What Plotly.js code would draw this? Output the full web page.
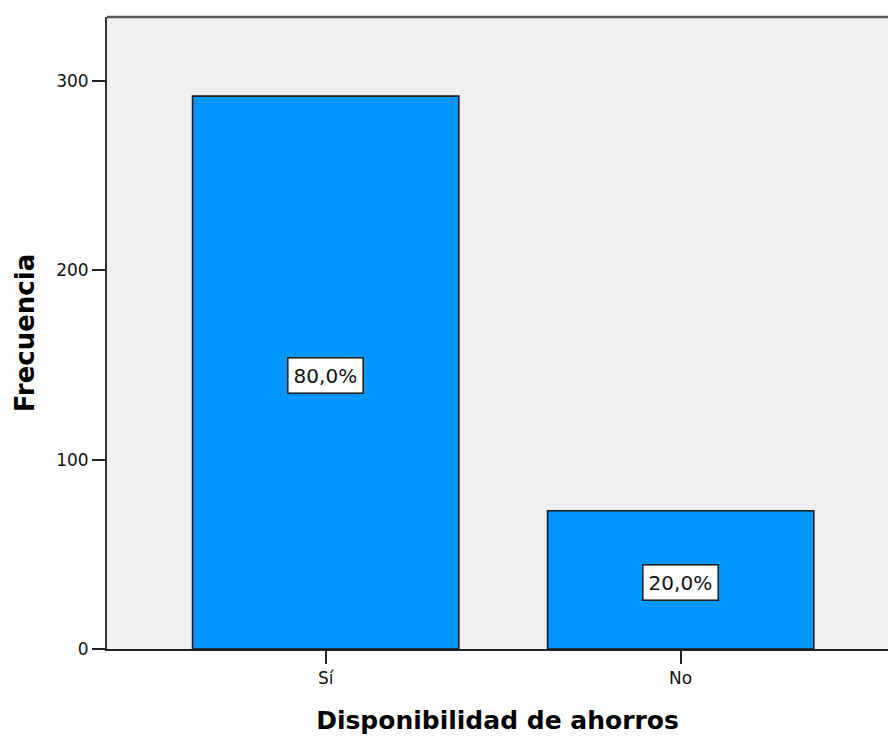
<!DOCTYPE html>
<html>
<head>
<meta charset="utf-8">
<script src="https://cdn.plot.ly/plotly-3.0.1.min.js"></script>
<style>html,body{margin:0;padding:0;background:#fff;}#chart{width:888px;height:738px;}</style>
</head>
<body>
<div id="chart"></div>
<script>
const categories = ["Sí", "No"];
const frequencies = [292, 73];
const percentLabels = ["80,0%", "20,0%"];
const yTicks = [0, 100, 200, 300];

const trace = {
  type: "bar",
  x: categories,
  y: frequencies,
  width: 0.75,
  marker: { color: "#0095ff", line: { color: "#1a1a1a", width: 1.6 } },
  hoverinfo: "skip"
};

const annotations = categories.map((c, i) => ({
  x: c, y: frequencies[i] / 2, xref: "x", yref: "y",
  text: percentLabels[i], showarrow: false,
  yshift: -3,
  font: { family: "DejaVu Sans", size: 20, color: "#111" },
  bgcolor: "#ffffff", bordercolor: "#222", borderwidth: 1.6, borderpad: 5
}));

const layout = {
  width: 888, height: 738,
  margin: { l: 107, r: 0, t: 17, b: 89 },
  paper_bgcolor: "#ffffff",
  plot_bgcolor: "#efefef",
  showlegend: false,
  bargap: 0,
  font: { family: "DejaVu Sans", size: 17, color: "#111" },
  xaxis: {
    type: "category",
    range: [-0.616, 1.584],
    showline: true, linecolor: "#222", linewidth: 2,
    ticks: "outside", ticklen: 13, tickcolor: "#222", tickwidth: 2,
    showgrid: false, zeroline: false,
    tickfont: { family: "DejaVu Sans", size: 17, color: "#111" },
    title: { text: "Disponibilidad de ahorros", font: { family: "DejaVu Sans", size: 25, weight: "bold", color: "#000" }, standoff: 24 }
  },
  yaxis: {
    range: [0, 333.8],
    tickvals: yTicks,
    showline: true, linecolor: "#333", linewidth: 2,
    ticks: "outside", ticklen: 13, tickcolor: "#222", tickwidth: 2,
    showgrid: false, zeroline: false,
    tickfont: { family: "DejaVu Sans", size: 17, color: "#111" },
    title: { text: "Frecuencia", font: { family: "DejaVu Sans", size: 26, weight: "bold", color: "#000" }, standoff: 14 }
  },
  shapes: [{
    type: "line", xref: "paper", yref: "paper", x0: 0, x1: 1, y0: 1, y1: 1,
    line: { color: "#555", width: 2.5 }
  }],
  annotations: annotations
};

Plotly.newPlot("chart", [trace], layout, { staticPlot: true, displayModeBar: false });
</script>
</body>
</html>
